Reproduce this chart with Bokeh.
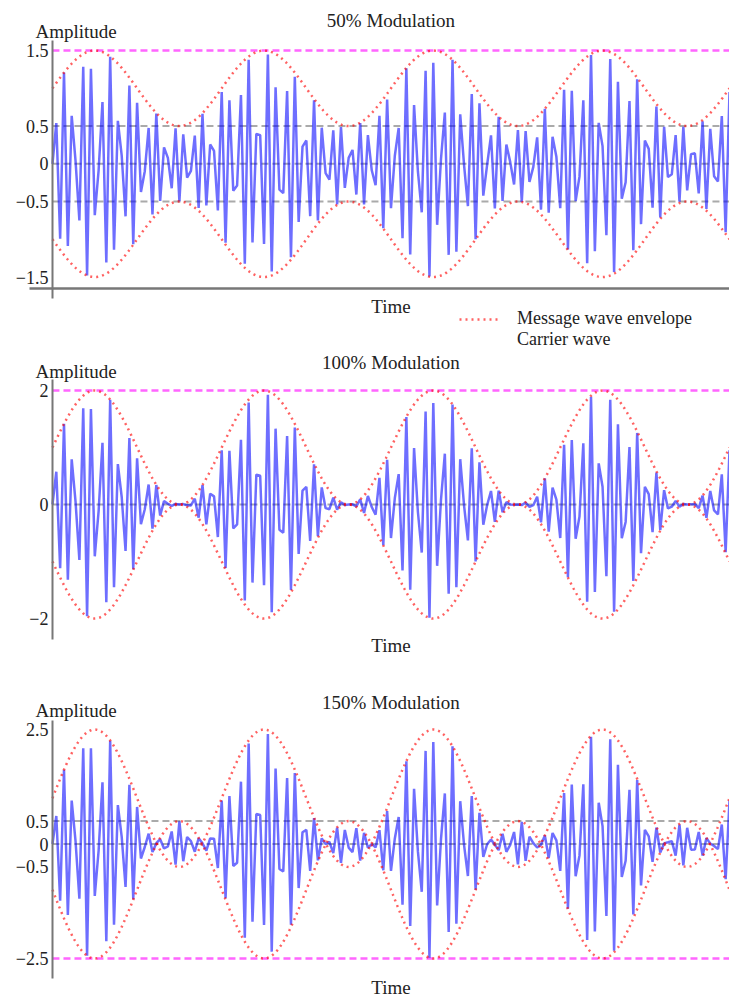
import numpy as np
from bokeh.plotting import figure
from bokeh.layouts import column
from bokeh.models import (Range1d, LinearAxis, FixedTicker, CustomJSTickFormatter,
                          Label, Legend, LegendItem)
from bokeh.embed import file_html
from bokeh.resources import INLINE

# ---------------- data ----------------
titles = ["50% Modulation", "100% Modulation", "150% Modulation"]
modulation_index = [0.5, 1.0, 1.5]
carrier_amplitude = 1.0
message_cycles = 1.0      # message cycles per time unit
carrier_cycles = 18.3     # carrier cycles per time unit (as drawn)
time_start = 0.0
time_end = 4.0
carrier_samples = 177
envelope_samples = 401
y_ticks = [[1.5, 0.5, 0, -0.5, -1.5], [2, 0, -2], [2.5, 0.5, 0, -0.5, -2.5]]
gray_levels = [[0.5, 0, -0.5], [0], [0.5, 0]]
peak_levels = [[1.5], [2], [-2.5]]
legend_labels = ["Message wave envelope", "Carrier wave"]
x_label = "Time"
y_label = "Amplitude"

# ---------------- layout / style ----------------
FONT = "Liberation Serif"
W = 729
panel_heights = [350, 335, 315]
view_limits = [(-2.473, 2.163), (-3.175, 2.702), (-3.417, 3.461)]   # whole figure
axis_bounds = [(-1.784, 1.633), (-2.368, 2.193), (-2.937, 2.696)]   # drawn axes
x_limits = (-0.307, 4.0)
x_axis_left = -0.136
axis_cross = [-1.65, None, None]
title_offsets = [20, 17, 18]
amp_offsets = [9, 8, 10]
time_offsets = [-8, -6, -9]
legend_bottoms = [21, 0]

t_car = np.linspace(time_start, time_end, carrier_samples)
t_env = np.linspace(time_start, time_end, envelope_samples)
t_mid = 0.5 * (time_start + time_end)
fmt = CustomJSTickFormatter(code="return tick < 0 ? '\\u2212' + String(-tick) : String(tick);")

def make_legend(item, bottom):
    return Legend(items=[item], location=(459, bottom), orientation="vertical",
                  background_fill_alpha=0, border_line_alpha=0,
                  padding=0, margin=0, spacing=0,
                  label_text_font=FONT, label_text_font_size="18px",
                  label_text_color="#222222", label_standoff=16,
                  glyph_width=42, glyph_height=18, label_height=18)

figs = []
for i in range(3):
    m = modulation_index[i]
    env = carrier_amplitude * (1 + m * np.sin(2 * np.pi * message_cycles * t_env))
    msg_c = carrier_amplitude * (1 + m * np.sin(2 * np.pi * message_cycles * t_car))
    car = msg_c * np.sin(2 * np.pi * carrier_cycles * t_car)
    lo, hi = axis_bounds[i]

    p = figure(width=W, height=panel_heights[i],
               x_range=Range1d(*x_limits), y_range=Range1d(*view_limits[i]),
               x_axis_location=None, y_axis_location=None,
               toolbar_location=None, output_backend="svg", title=None,
               min_border_left=0, min_border_right=0,
               min_border_top=0, min_border_bottom=0,
               outline_line_color=None)
    p.grid.visible = False

    gl = gray_levels[i]
    p.segment(x0=[time_start] * len(gl), x1=[time_end] * len(gl), y0=gl, y1=gl,
              line_color="#aaaaaa", line_width=2, line_dash="7 4")
    pl = peak_levels[i]
    p.segment(x0=[time_start] * len(pl), x1=[time_end] * len(pl), y0=pl, y1=pl,
              line_color="#ff66ff", line_width=2.5, line_dash="7 4")

    if axis_cross[i] is not None:
        xa = LinearAxis(fixed_location=axis_cross[i], bounds=(x_axis_left, time_end),
                        ticker=FixedTicker(ticks=[]), major_label_text_alpha=0,
                        axis_line_color="#777777", axis_line_width=2.5,
                        major_tick_out=0, major_tick_in=0,
                        major_tick_line_color=None, minor_tick_line_color=None)
        p.add_layout(xa, "below")

    car_r = p.line(t_car, car, line_color="#0000ff", line_alpha=0.57, line_width=2.5)
    env_up = p.line(t_env, env, line_color="#ff0000", line_alpha=0.62,
                    line_width=2.5, line_dash="2 4")
    p.line(t_env, -env, line_color="#ff0000", line_alpha=0.62,
           line_width=2.5, line_dash="2 4")

    ax = LinearAxis(fixed_location=time_start, bounds=(lo, hi),
                    ticker=FixedTicker(ticks=y_ticks[i], minor_ticks=[]),
                    formatter=fmt,
                    axis_line_color="#777777", axis_line_width=2,
                    major_tick_out=0, major_tick_in=0,
                    minor_tick_out=0, minor_tick_in=0,
                    major_tick_line_color=None, minor_tick_line_color=None,
                    major_label_text_font=FONT, major_label_text_font_size="18px",
                    major_label_text_color="#222222", major_label_standoff=4)
    p.add_layout(ax, "left")

    p.add_layout(Label(x=t_mid, y=hi, y_offset=title_offsets[i],
                       text=titles[i], text_align="center", text_baseline="middle",
                       text_font=FONT, text_font_size="19px", text_color="#222222"))
    p.add_layout(Label(x=time_start, x_offset=-17, y=hi, y_offset=amp_offsets[i],
                       text=y_label, text_align="left", text_baseline="middle",
                       text_font=FONT, text_font_size="19px", text_color="#222222"))
    p.add_layout(Label(x=t_mid, y=lo, y_offset=time_offsets[i],
                       text=x_label, text_align="center", text_baseline="middle",
                       text_font=FONT, text_font_size="19px", text_color="#222222"))

    if i == 0:
        blank = p.line([], [], line_alpha=0)
        p.add_layout(make_legend(LegendItem(label=legend_labels[0], renderers=[env_up]),
                                 legend_bottoms[0]))
        p.add_layout(make_legend(LegendItem(label=legend_labels[1], renderers=[blank]),
                                 legend_bottoms[1]))
    figs.append(p)

layout = column(*figs)
open("out.html", "w").write(file_html(layout, INLINE))
